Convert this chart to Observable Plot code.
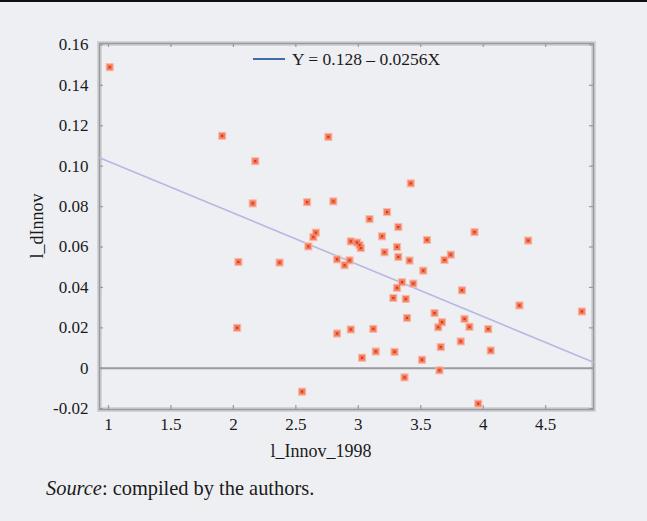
<!DOCTYPE html>
<html>
<head>
<meta charset="utf-8">
<script src="https://cdn.jsdelivr.net/npm/d3@7"></script>
<script src="https://cdn.jsdelivr.net/npm/@observablehq/plot@0.6"></script>
<style>
  html, body { margin: 0; padding: 0; }
  body { width: 647px; height: 521px; background: #eeeff3; position: relative; overflow: hidden;
         font-family: "Liberation Serif", "DejaVu Serif", serif; color: #1a1a1a; }
  .abs { position: absolute; white-space: nowrap; line-height: 1; }
  #chart svg text { font-family: "Liberation Serif", serif; }
</style>
</head>
<body>
<div id="chart" style="position:absolute;left:0;top:0"></div>
<div class="abs" style="left:0;top:0;width:647px;height:2px;background:#111"></div>
<div class="abs" id="legLine" style="left:253px;top:58px;width:32px;height:2px;background:#3d6bab"></div>
<div class="abs" id="legText" style="left:292px;top:51px;font-size:17.5px">Y = 0.128 – 0.0256X</div>
<div class="abs" id="xTitle" style="left:221px;width:200px;text-align:center;top:442px;font-size:18px">l_Innov_1998</div>
<div class="abs" id="yTitle" style="left:-63px;width:200px;text-align:center;top:217px;font-size:18px;transform:rotate(-90deg)">l_dInnov</div>
<div class="abs" id="caption" style="left:46px;top:478px;font-size:20.4px"><i>Source</i>: compiled by the authors.</div>
<script>
// Data
const xVals = [1.01, 1.91, 2.175, 2.155, 2.04, 2.03, 2.37, 2.55, 2.60, 2.64, 2.66, 2.59, 2.76, 2.80, 2.83, 2.89,
  2.93, 2.94, 2.99, 3.01, 3.02, 3.09, 3.23, 3.19, 3.21, 3.32, 3.31, 3.32, 3.41, 3.42, 3.55, 3.52,
  3.35, 3.44, 3.31, 3.28, 3.38, 3.39, 3.61, 3.64, 3.67, 2.83, 2.94, 3.12, 3.03, 3.14, 3.29, 3.51,
  3.37, 3.66, 3.65, 3.93, 4.36, 3.69, 3.74, 3.83, 3.85, 3.89, 4.04, 4.29, 4.79, 3.82, 4.06, 3.96];
const yVals = [0.149, 0.115, 0.1025, 0.0816, 0.0526, 0.020, 0.0523, -0.0116, 0.0603, 0.0649, 0.0671, 0.0822, 0.1145, 0.0826, 0.0539, 0.051,
  0.0534, 0.0628, 0.0622, 0.061, 0.0595, 0.0738, 0.0773, 0.0653, 0.0574, 0.0699, 0.060, 0.0551, 0.0533, 0.0915, 0.0635, 0.0483,
  0.0426, 0.0419, 0.0398, 0.0348, 0.0343, 0.0249, 0.0273, 0.0203, 0.0228, 0.0172, 0.0192, 0.0195, 0.0052, 0.0083, 0.0081, 0.0042,
  -0.0045, 0.0105, -0.001, 0.0674, 0.0632, 0.0536, 0.0562, 0.0386, 0.0244, 0.0205, 0.0194, 0.0311, 0.0281, 0.0133, 0.0088, -0.0175];
// Fitted line end points (as drawn)
const fitX = [0.928, 4.883];
const fitY = [0.1042, 0.0030];
// Tick values
const xTicks = [1, 1.5, 2, 2.5, 3, 3.5, 4, 4.5];
const yTicks = [-0.02, 0, 0.02, 0.04, 0.06, 0.08, 0.10, 0.12, 0.14, 0.16];
const yTickLabels = ["-0.02", "0", "0.02", "0.04", "0.06", "0.08", "0.10", "0.12", "0.14", "0.16"];
const xTickLabels = ["1", "1.5", "2", "2.5", "3", "3.5", "4", "4.5"];

const points = xVals.map((x, i) => ({x, y: yVals[i]}));
const fit = fitX.map((x, i) => ({x, y: fitY[i]}));

const W = 647, H = 465, mL = 99, mR = 54, mT = 43, mB = 56;
const pw = W - mL - mR, ph = H - mT - mB;
const gray = "#9a9a9c";
const serif = "Liberation Serif";

const chart = Plot.plot({
  width: W, height: H,
  marginLeft: mL, marginRight: mR, marginTop: mT, marginBottom: mB,
  style: {background: "transparent", fontFamily: "'Liberation Serif', serif", fontSize: "17px", color: "#1a1a1a"},
  x: {domain: [0.928, 4.883]},
  y: {domain: [-0.0204, 0.1607]},
  marks: [
    Plot.frame({stroke: "#d3d4d8", strokeWidth: 5}),
    Plot.frame({stroke: gray, strokeWidth: 1.6}),
    Plot.tickY(yTicks, {y: d => d, stroke: gray, strokeWidth: 1.2, insetRight: pw - 4}),
    Plot.tickY(yTicks, {y: d => d, stroke: gray, strokeWidth: 1.2, insetLeft: pw - 4}),
    Plot.tickX(xTicks, {x: d => d, stroke: gray, strokeWidth: 1.2, insetBottom: ph - 4}),
    Plot.tickX(xTicks, {x: d => d, stroke: gray, strokeWidth: 1.2, insetTop: ph - 4}),
    Plot.ruleY([0], {stroke: gray, strokeWidth: 2}),
    Plot.line(fit, {x: "x", y: "y", stroke: "#b5b8e2", strokeWidth: 1.6}),
    Plot.axisY({ticks: yTicks, tickSize: 0, tickPadding: 11, label: null, fontFamily: serif, fill: "#1a1a1a",
      tickFormat: d => yTickLabels[yTicks.findIndex(t => Math.abs(t - d) < 1e-9)], fontSize: 17}),
    Plot.axisX({ticks: xTicks, tickSize: 0, tickPadding: 8, label: null, fontFamily: serif, fill: "#1a1a1a",
      tickFormat: d => xTickLabels[xTicks.findIndex(t => Math.abs(t - d) < 1e-9)], fontSize: 17}),
    Plot.dot(points, {x: "x", y: "y", symbol: "square", r: 4.6, fill: "#f8bba8"}),
    Plot.dot(points, {x: "x", y: "y", symbol: "square", r: 3.3, fill: "#f27d5e"}),
    Plot.dot(points, {x: "x", y: "y", symbol: "square", r: 1.2, fill: "#d8361a"})
  ]
});
document.getElementById("chart").appendChild(chart);
</script>
</body>
</html>
